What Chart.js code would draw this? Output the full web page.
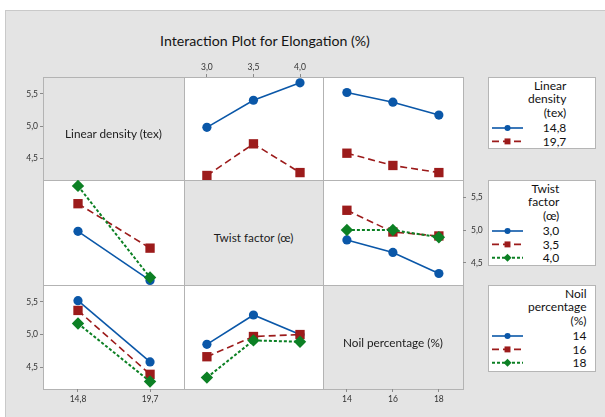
<!DOCTYPE html>
<html><head><meta charset="utf-8">
<script src="https://cdn.jsdelivr.net/npm/chart.js@4.4.0/dist/chart.umd.min.js"></script>
<style>
html,body{margin:0;padding:0}
body{width:605px;height:417px;overflow:hidden;background:#fff;position:relative;font-family:Lato,"Open Sans",sans-serif;}
#panel{position:absolute;left:5px;top:10px;width:610px;height:420px;background:#e4e4e4;border-left:1px solid #c9c9c9;border-top:1px solid #c9c9c9;box-sizing:border-box}
.cell{position:absolute;box-sizing:border-box;border:1px solid #b3b3b3}
.diag{background:#e4e4e4}
.off{background:#fff}
.lab{position:absolute;white-space:nowrap;color:#1c1c1c;transform:translate(-50%,-50%);font-size:12px}
#title{position:absolute;white-space:nowrap;color:#141414;transform:translate(-50%,-50%);font-size:16px}
canvas{position:absolute}
.legbox{position:absolute;background:#fff;border:1px solid #b5b5b5;box-sizing:border-box}
.legtext{position:absolute;width:max-content;font-size:12px;color:#111;white-space:nowrap}
.legtext div{height:13.4px;line-height:13.4px;text-align:right}
svg{position:absolute;left:0;top:0;overflow:visible}
</style></head>
<body>
<div id="panel"></div>
<script>
// ---------------- data ----------------
const ldLevels = [14.8, 19.7];          // Linear density (tex)
const tfLevels = [3.0, 3.5, 4.0];       // Twist factor
const npLevels = [14, 16, 18];          // Noil percentage (%)
const yTicks   = [4.5, 5.0, 5.5];

// mean elongation (%) : linear density x twist factor
const ld148ByTF = [4.98, 5.40, 5.67];
const ld197ByTF = [4.235, 4.725, 4.28];
// mean elongation (%) : linear density x noil percentage
const ld148ByNP = [5.52, 5.37, 5.17];
const ld197ByNP = [4.58, 4.39, 4.28];
// mean elongation (%) : twist factor x noil percentage
const tf30ByNP = [4.85, 4.66, 4.34];
const tf35ByNP = [5.30, 4.97, 4.91];
const tf40ByNP = [5.00, 5.00, 4.89];

const titleText = 'Interaction Plot for Elongation (%)';
const factorNames = ['Linear density (tex)', 'Twist factor (\u0153)', 'Noil percentage (%)'];
const legendTitles = [['Linear', 'density', '(tex)'], ['Twist', 'factor', '(\u0153)'], ['Noil', 'percentage', '(%)']];

// ---------------- layout / style ----------------
const colX = [43, 184, 323, 463];
const rowY = [77, 180, 285, 389];
const yRange = [4.165, 5.76];
const xRanges = [[12.42, 22.01], [2.754, 4.247], [12.96, 19.05]];
const levels = [ldLevels, tfLevels, npLevels];
const decimals = [1, 1, 0];
const seriesStyles = [
  {color: '#0a57a8', dash: [], style: 'circle', radius: 4.6, width: 1.6, lr: 3},
  {color: '#9c1b1b', dash: [7, 4], style: 'rect', radius: 6.6, width: 1.6, lr: 4.2},
  {color: '#0c8024', dash: [3, 2], style: 'rectRot', radius: 6.2, width: 2, lr: 4}
];
const fmt = (v, d) => Number(v).toFixed(d).replace('.', ',');
const transpose = m => m[0].map((_, j) => m.map(r => r[j]));

const byLD_TF = [ld148ByTF, ld197ByTF];
const byLD_NP = [ld148ByNP, ld197ByNP];
const byTF_NP = [tf30ByNP, tf35ByNP, tf40ByNP];

// ---------------- cells ----------------
for (let r = 0; r < 3; r++) for (let c = 0; c < 3; c++) {
  const d = document.createElement('div');
  d.className = 'cell ' + (r === c ? 'diag' : 'off');
  d.style.left = colX[c] + 'px'; d.style.top = rowY[r] + 'px';
  d.style.width = (colX[c + 1] - colX[c] + 1) + 'px';
  d.style.height = (rowY[r + 1] - rowY[r] + 1) + 'px';
  document.body.appendChild(d);
}

function axisCfg(kind, fi, pos, size) {
  const lv = kind === 'x' ? levels[fi] : yTicks;
  const rg = kind === 'x' ? xRanges[fi] : yRange;
  const dec = kind === 'x' ? decimals[fi] : 1;
  const cfg = {
    type: 'linear', min: rg[0], max: rg[1], display: !!pos,
    position: pos || (kind === 'x' ? 'bottom' : 'left'),
    afterBuildTicks: s => { s.ticks = lv.map(v => ({value: v})); },
    ticks: {autoSkip: false, maxRotation: 0, minRotation: 0, padding: pos === 'right' ? 5 : 2, color: '#333',
      font: {family: 'Lato', size: 8.5}, callback: v => fmt(v, dec)},
    grid: {display: true, drawOnChartArea: false, drawTicks: true, tickLength: 3, color: '#8a8a8a', lineWidth: 1},
    border: {display: false}
  };
  if (pos) cfg.afterFit = s => {
    if (kind === 'x') s.height = size; else s.width = size;
    s.paddingTop = s.paddingBottom = s.paddingLeft = s.paddingRight = 0;
  };
  return cfg;
}

function makePanel(r, c, xf, series, axes) {
  const sz = {left: 43, right: 24, top: 22, bottom: 28};
  let L = colX[c], R = colX[c + 1], T = rowY[r], B = rowY[r + 1];
  if (axes.y === 'left') L -= sz.left;
  if (axes.y === 'right') R += sz.right;
  if (axes.x === 'top') T -= sz.top;
  if (axes.x === 'bottom') B += sz.bottom;
  const cv = document.createElement('canvas');
  cv.width = R - L; cv.height = B - T;
  cv.style.left = L + 'px'; cv.style.top = T + 'px';
  cv.style.width = (R - L) + 'px'; cv.style.height = (B - T) + 'px';
  document.body.appendChild(cv);
  const n = series.length;
  const datasets = series.map((vals, i) => {
    const st = seriesStyles[i];
    return {
      data: levels[xf].map((x, k) => ({x: x, y: vals[k]})),
      borderColor: st.color, backgroundColor: st.color, borderWidth: st.width,
      borderDash: st.dash, pointStyle: st.style, pointRadius: st.radius,
      pointBorderWidth: 0, pointBackgroundColor: st.color, tension: 0, clip: false,
      order: n - i
    };
  });
  new Chart(cv, {
    type: 'line',
    data: {datasets: datasets},
    options: {
      responsive: false, maintainAspectRatio: false, animation: false, events: [],
      layout: {padding: 0, autoPadding: false},
      plugins: {legend: {display: false}, tooltip: {enabled: false}},
      scales: {
        x: axisCfg('x', xf, axes.x, axes.x === 'top' ? sz.top : sz.bottom),
        y: axisCfg('y', 0, axes.y, axes.y === 'right' ? sz.right : sz.left)
      }
    }
  });
}

makePanel(0, 0, 0, [], {y: 'left'});
makePanel(0, 1, 1, byLD_TF, {x: 'top'});
makePanel(0, 2, 2, byLD_NP, {});
makePanel(1, 0, 0, transpose(byLD_TF), {});
makePanel(1, 2, 2, byTF_NP, {y: 'right'});
makePanel(2, 0, 0, transpose(byLD_NP), {y: 'left', x: 'bottom'});
makePanel(2, 1, 1, transpose(byTF_NP), {});
makePanel(2, 2, 2, [], {x: 'bottom'});

// ---------------- diagonal labels ----------------
const labs = factorNames.map((t, i) => {
  const d = document.createElement('div');
  d.className = 'lab'; d.textContent = t;
  d.style.left = ((colX[i] + colX[i + 1]) / 2) + 'px';
  d.style.top = ((rowY[i] + rowY[i + 1]) / 2 + 4.5) + 'px';
  document.body.appendChild(d);
  return d;
});
const w0 = labs[0].getBoundingClientRect().width;
const labSize = 12 * 97 / w0;
labs.forEach(d => d.style.fontSize = labSize + 'px');

// ---------------- title ----------------
const tt = document.createElement('div');
tt.id = 'title'; tt.textContent = titleText;
tt.style.left = '265px'; tt.style.top = '40px';
document.body.appendChild(tt);
tt.style.fontSize = (16 * 210 / tt.getBoundingClientRect().width) + 'px';

// ---------------- legends ----------------
const legBoxes = [[77, 148], [180, 265], [285, 371]];
const svgNS = 'http://www.w3.org/2000/svg';
const svg = document.createElementNS(svgNS, 'svg');
svg.setAttribute('width', '605'); svg.setAttribute('height', '417');
legBoxes.forEach((bx, f) => {
  const b = document.createElement('div');
  b.className = 'legbox';
  b.style.left = '488px'; b.style.top = bx[0] + 'px';
  b.style.width = '108px'; b.style.height = (bx[1] - bx[0] + 1) + 'px';
  document.body.appendChild(b);
  const t = document.createElement('div');
  t.className = 'legtext';
  t.style.left = '528px'; t.style.top = (bx[0] + 2) + 'px';
  legendTitles[f].forEach(s => { const l = document.createElement('div'); l.textContent = s; t.appendChild(l); });
  const sp = document.createElement('div'); sp.style.height = '2.2px'; t.appendChild(sp);
  levels[f].forEach((v, k) => {
    const l = document.createElement('div'); l.textContent = fmt(v, decimals[f]); t.appendChild(l);
    const st = seriesStyles[k];
    const y = bx[0] + 51 + k * 13.4;
    const ln = document.createElementNS(svgNS, 'line');
    ln.setAttribute('x1', 492); ln.setAttribute('x2', 523); ln.setAttribute('y1', y); ln.setAttribute('y2', y);
    ln.setAttribute('stroke', st.color); ln.setAttribute('stroke-width', st.width);
    if (st.dash.length) ln.setAttribute('stroke-dasharray', st.dash.join(' '));
    svg.appendChild(ln);
    let m;
    const cx = 507.5, rr = st.lr;
    if (st.style === 'circle') {
      m = document.createElementNS(svgNS, 'circle');
      m.setAttribute('cx', cx); m.setAttribute('cy', y); m.setAttribute('r', rr);
    } else if (st.style === 'rect') {
      m = document.createElementNS(svgNS, 'rect');
      const h = rr * Math.SQRT1_2;
      m.setAttribute('x', cx - h); m.setAttribute('y', y - h); m.setAttribute('width', 2 * h); m.setAttribute('height', 2 * h);
    } else {
      m = document.createElementNS(svgNS, 'polygon');
      m.setAttribute('points', `${cx},${y - rr} ${cx + rr},${y} ${cx},${y + rr} ${cx - rr},${y}`);
    }
    m.setAttribute('fill', st.color);
    svg.appendChild(m);
  });
  document.body.appendChild(t);
});
document.body.appendChild(svg);
</script>
</body></html>
